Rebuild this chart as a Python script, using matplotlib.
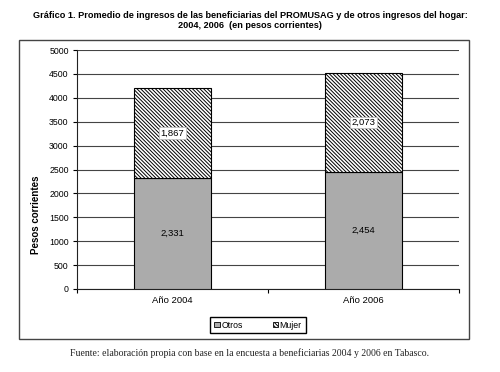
import matplotlib.pyplot as plt
from matplotlib.patches import Rectangle, Patch
import numpy as np

plt.rcParams['hatch.linewidth'] = 0.7

years = ["Año 2004", "Año 2006"]
otros = [2331, 2454]
mujer = [1867, 2073]
yticks = list(range(0, 5001, 500))

W, H = 500, 372
HATCH = '\\' * 9
fig = plt.figure(figsize=(W / 100, H / 100), dpi=100)

# outer chart frame
fig.patches.append(Rectangle((19 / W, 1 - 339 / H), 450 / W, 299 / H,
                             transform=fig.transFigure, fill=False,
                             edgecolor='#444444', linewidth=1.0))

ax = fig.add_axes([77 / W, 1 - 289 / H, 382 / W, 239 / H])
x = np.arange(len(years))
ax.bar(x, otros, width=0.4, color='#ababab', edgecolor='black', linewidth=0.8, zorder=3)
ax.bar(x, mujer, width=0.4, bottom=otros, color='white', edgecolor='black',
       hatch=HATCH, linewidth=0.8, zorder=3)

for xi, o, m in zip(x, otros, mujer):
    ax.text(xi, o / 2, f"{o:,}", ha='center', va='center', fontsize=6.8,
            family='Liberation Sans', zorder=4)
    ax.text(xi, o + m / 2, f"{m:,}", ha='center', va='center', fontsize=6.8,
            family='Liberation Sans', zorder=4,
            bbox=dict(boxstyle='square,pad=0.12', facecolor='white', edgecolor='#bbbbbb', linewidth=0.5))

ax.set_xlim(-0.5, 1.5)
ax.set_ylim(0, 5000)
ax.set_yticks(yticks)
ax.set_yticklabels([str(v) for v in yticks], fontsize=6.3, family='Liberation Sans')
ax.set_xticks(x)
ax.set_xticklabels(years, fontsize=6.8, family='Liberation Sans')
ax.set_xticks([-0.5, 0.5, 1.5], minor=True)
ax.tick_params(axis='x', which='major', length=0, pad=5)
ax.tick_params(axis='x', which='minor', length=3, direction='out', width=0.8)
ax.tick_params(axis='y', length=3, direction='out', width=0.8, pad=3)
ax.grid(axis='y', color='#444444', linewidth=0.8, zorder=0)
ax.set_axisbelow(True)
for s in ['top', 'right']:
    ax.spines[s].set_visible(False)
for s in ['left', 'bottom']:
    ax.spines[s].set_linewidth(0.8)
    ax.spines[s].set_color('#222222')

ax.set_ylabel("Pesos corrientes", fontsize=7, fontweight='bold', family='Liberation Sans')
ax.yaxis.set_label_coords(-0.095, 0.31)

fig.text(0.5, 1 - 15 / H,
         "Gráfico 1. Promedio de ingresos de las beneficiarias del PROMUSAG y de otros ingresos del hogar:",
         ha='center', va='center', fontsize=6.6, fontweight='bold', family='Liberation Sans')
fig.text(0.5, 1 - 26 / H, "2004, 2006  (en pesos corrientes)",
         ha='center', va='center', fontsize=6.6, fontweight='bold', family='Liberation Sans')

handles = [Patch(facecolor='#ababab', edgecolor='black', linewidth=0.6, label='Otros'),
           Patch(facecolor='white', edgecolor='black', hatch=HATCH, linewidth=0.6, label='Mujer')]
fig.legend(handles=handles, loc='center', bbox_to_anchor=(258 / W, 1 - 325 / H), ncol=2,
           prop={'family': 'Liberation Sans', 'size': 6.3},
           handlelength=0.6, handleheight=0.6, handletextpad=0.2, columnspacing=3.4,
           fancybox=False, edgecolor='black', framealpha=1, borderpad=0.45, borderaxespad=0)

fig.text(0.5, 1 - 353 / H,
         "Fuente: elaboración propia con base en la encuesta a beneficiarias 2004 y 2006 en Tabasco.",
         ha='center', va='center', fontsize=7, family='Liberation Serif', color='#222222')

fig.savefig("out.png", dpi=100)
